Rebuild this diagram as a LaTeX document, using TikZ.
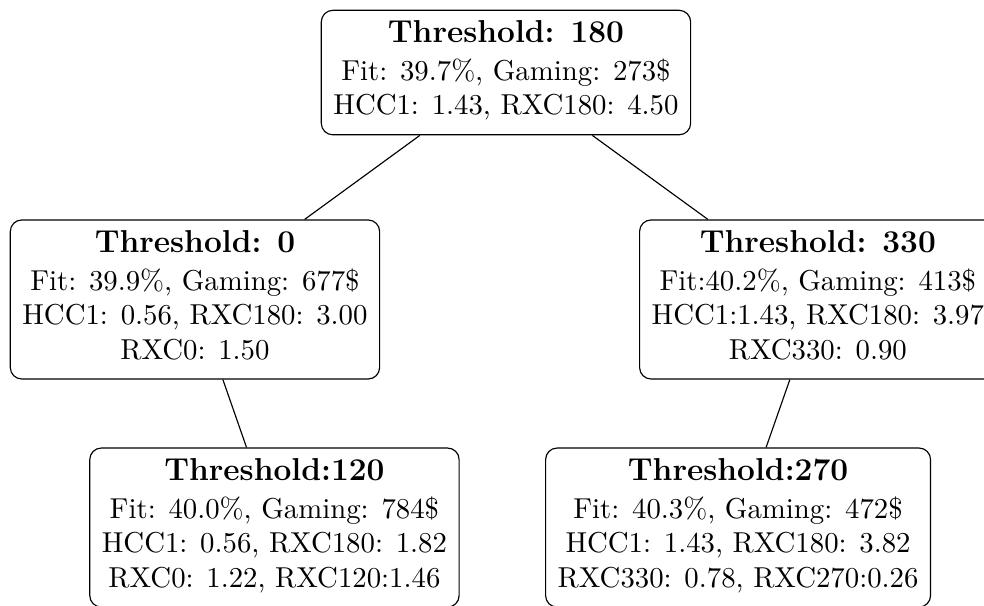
\documentclass[tikz,border=0pt]{standalone}
\newcommand{\thtitle}[1]{{\fontsize{11}{12}\selectfont\bfseries #1}\\[1.2pt]}

\begin{document}
\begin{tikzpicture}[x=1pt,y=1pt,
  thbox/.style={draw,rounded corners=4pt,align=center,inner xsep=4.2pt,inner ysep=3.5pt,text depth=3.4pt}]
\pgfmathsetmacro{\lvlA}{-25.2}
\pgfmathsetmacro{\lvlB}{-104.0}
\pgfmathsetmacro{\lvlC}{-183.2}
\useasboundingbox (0,0) rectangle (341.7,-210.4);
\clip (0,0) rectangle (341.7,-210.4);
%
\node[thbox](root) at (175.7,\lvlA){\thtitle{Threshold: 180}Fit: 39.7\%, Gaming: 273\$\\HCC1: 1.43, RXC180: 4.50};
\node[thbox](thzero) at (67.7,\lvlB){\thtitle{Threshold: 0}Fit: 39.9\%, Gaming: 677\$\\HCC1: 0.56, RXC180: 3.00\\RXC0: 1.50};
\node[thbox](ththirty) at (284.0,\lvlB){\thtitle{Threshold: 330}Fit:40.2\%, Gaming: 413\$\\HCC1:1.43, RXC180: 3.97\\RXC330: 0.90};
\node[thbox](thtwelve) at (95.3,\lvlC){\thtitle{Threshold:120}Fit: 40.0\%, Gaming: 784\$\\HCC1: 0.56, RXC180: 1.82\\RXC0: 1.22, RXC120:1.46};
\node[thbox](thseventy) at (256.3,\lvlC){\thtitle{Threshold:270}Fit: 40.3\%, Gaming: 472\$\\HCC1: 1.43, RXC180: 3.82\\RXC330: 0.78, RXC270:0.26};
%
\draw(root)--(thzero);
\draw(root)--(ththirty);
\draw(thzero)--(thtwelve);
\draw(ththirty)--(thseventy);
\end{tikzpicture}
\end{document}
